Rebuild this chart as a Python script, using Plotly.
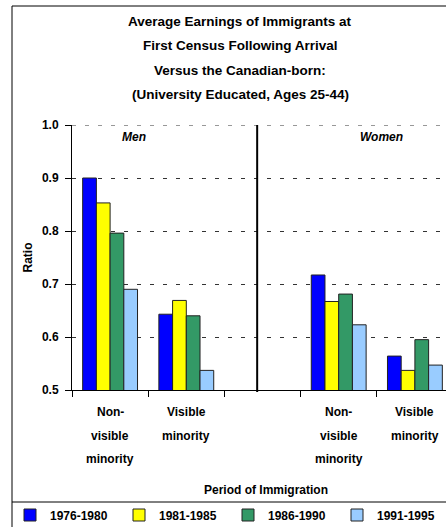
import plotly.graph_objects as go

# ---- data ----
categories = ["Non-visible minority (Men)", "Visible minority (Men)", " ",
              "Non-visible minority (Women)", "Visible minority (Women)"]
tick_label_lines = [["Non-", "visible", "minority"], ["Visible", "minority"], [],
                    ["Non-", "visible", "minority"], ["Visible", "minority"]]
periods = ["1976-1980", "1981-1985", "1986-1990", "1991-1995"]
v_1976_1980 = [0.90, 0.643, None, 0.717, 0.564]
v_1981_1985 = [0.853, 0.669, None, 0.667, 0.537]
v_1986_1990 = [0.796, 0.640, None, 0.681, 0.595]
v_1991_1995 = [0.690, 0.537, None, 0.623, 0.547]
series = [v_1976_1980, v_1981_1985, v_1986_1990, v_1991_1995]
colors = ["#0000FF", "#FFFF00", "#339966", "#99CCFF"]
title_lines = ["Average Earnings of Immigrants at",
               "First Census Following Arrival",
               "Versus the Canadian-born:",
               "(University Educated, Ages 25-44)"]
panel_labels = ["Men", "Women"]
y_ticks = [0.5, 0.6, 0.7, 0.8, 0.9, 1.0]

FONT = "Liberation Sans, Arial, sans-serif"

W, H = 446, 527
ML, MT = 72, 125
PLOT_W = W - ML
PLOT_H = 390 - MT


def px_x(px):
    return (px - ML) / PLOT_W


def px_y(py):
    return (390 - py) / PLOT_H


fig = go.Figure()
for name, vals, col in zip(periods, series, colors):
    fig.add_trace(go.Bar(
        x=categories, y=vals, name=name,
        marker=dict(color=col, line=dict(color="#222222", width=1)),
    ))

annotations = []
# title lines
for i, line in enumerate(title_lines):
    annotations.append(dict(
        text=f"<b>{line}</b>", xref="paper", yref="paper",
        x=px_x(240), y=px_y(21 + i * 24.5), xanchor="center", yanchor="middle",
        showarrow=False, font=dict(family=FONT, size=13.5, color="black")))
# category labels (multi-line, wide spacing)
for ci, lines in enumerate(tick_label_lines):
    for li, line in enumerate(lines):
        annotations.append(dict(
            text=f"<b>{line}</b>", xref="x", yref="paper",
            x=categories[ci], y=px_y(412 + li * 23.5), xanchor="center", yanchor="middle",
            showarrow=False, font=dict(family=FONT, size=12, color="black")))
# panel labels
annotations.append(dict(text=f"<b><i>{panel_labels[0]}</i></b>", xref="paper", yref="paper",
                        x=px_x(134), y=px_y(137), xanchor="center", yanchor="middle",
                        showarrow=False, font=dict(family=FONT, size=12, color="black")))
annotations.append(dict(text=f"<b><i>{panel_labels[1]}</i></b>", xref="paper", yref="paper",
                        x=px_x(381), y=px_y(137), xanchor="center", yanchor="middle",
                        showarrow=False, font=dict(family=FONT, size=12, color="black")))
# x-axis title
annotations.append(dict(text="<b>Period of Immigration</b>", xref="paper", yref="paper",
                        x=px_x(266), y=px_y(490), xanchor="center", yanchor="middle",
                        showarrow=False, font=dict(family=FONT, size=12, color="black")))

shapes = [
    # top dashed gridline at 1.0
    dict(type="line", xref="paper", yref="y", x0=0, x1=1, y0=1.0, y1=1.0,
         line=dict(color="#333333", width=1, dash="4px,9px")),
    # divider between Men and Women
    dict(type="line", xref="x", yref="paper", x0=1.93, x1=1.93, y0=px_y(392), y1=1.0,
         line=dict(color="black", width=2)),
    # outer frame (left and top) and legend separator
    dict(type="line", xref="paper", yref="paper", x0=px_x(12), x1=px_x(12),
         y0=px_y(6), y1=px_y(540), line=dict(color="black", width=1)),
    dict(type="line", xref="paper", yref="paper", x0=px_x(12), x1=px_x(460),
         y0=px_y(6), y1=px_y(6), line=dict(color="black", width=1)),
    dict(type="line", xref="paper", yref="paper", x0=px_x(12), x1=px_x(460),
         y0=px_y(502), y1=px_y(502), line=dict(color="black", width=1)),
]

fig.update_layout(
    width=W, height=H,
    margin=dict(l=ML, r=0, t=MT, b=H - 390, pad=0, autoexpand=False),
    paper_bgcolor="white", plot_bgcolor="white",
    barmode="group", bargap=0.28, bargroupgap=0,
    font=dict(family=FONT, size=12, color="black"),
    showlegend=True,
    legend=dict(orientation="h", xanchor="left", yanchor="middle",
                x=px_x(10), y=px_y(515), entrywidth=64, entrywidthmode="pixels",
                itemwidth=30, font=dict(family=FONT, size=12, color="black", weight="bold"),
                bgcolor="rgba(0,0,0,0)", tracegroupgap=0),
    annotations=annotations,
    shapes=shapes,
)
fig.update_xaxes(
    type="category", categoryorder="array", categoryarray=categories,
    range=[-0.5, -0.5 + PLOT_W / 76.2],
    showticklabels=False, ticks="outside", ticklen=6, tickcolor="black",
    tickson="boundaries", showline=True, linecolor="black", linewidth=1,
    showgrid=False, zeroline=False,
)
fig.update_yaxes(
    range=[0.5, 1.0], tickvals=y_ticks, tickformat=".1f",
    ticks="outside", ticklen=6, tickcolor="black", ticklabelstandoff=4,
    tickfont=dict(family=FONT, size=12, color="black", weight="bold"),
    showline=True, linecolor="black", linewidth=1,
    showgrid=True, gridcolor="#333333", gridwidth=1, griddash="4px,9px",
    zeroline=False,
    title=dict(text="<b>Ratio</b>", font=dict(family=FONT, size=12, color="black"), standoff=6),
)

fig.write_html(
    "out.html",
    config={"displayModeBar": False},
    post_script="document.body.style.margin='0';document.body.style.overflow='hidden';",
)
